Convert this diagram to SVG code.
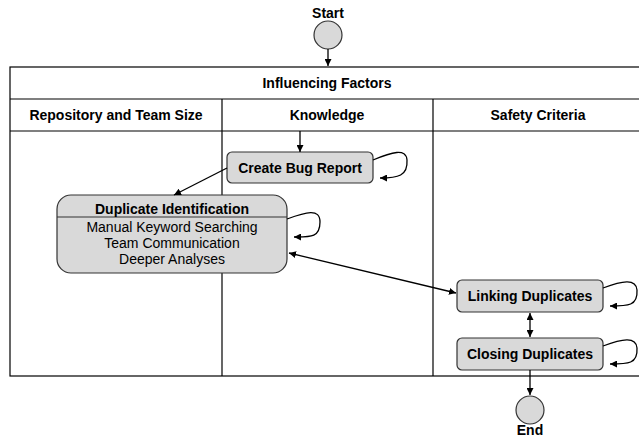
<svg xmlns="http://www.w3.org/2000/svg" width="639" height="440" viewBox="0 0 639 440">
<defs>
<marker id="ah" viewBox="0 0 10 10" refX="10" refY="5" markerWidth="7" markerHeight="7" orient="auto-start-reverse" markerUnits="userSpaceOnUse">
<path d="M0,0 L10,5 L0,10 z" fill="#000"/>
</marker>
<style>
text{font-family:"Liberation Sans",Arial,sans-serif;fill:#000}
.b{font-weight:bold;font-size:14px}
.r{font-size:14px}
.grid{fill:none;stroke:#000;stroke-width:1.2}
.box{fill:#d9d9d9;stroke:#333;stroke-width:1.2}
.circ{fill:#d9d9d9;stroke:#333;stroke-width:1.2}
.c{fill:none;stroke:#000;stroke-width:1.3}
</style>
</defs>
<g id="table">
<rect class="grid" x="10" y="67" width="634" height="309"/>
<line class="grid" x1="10" y1="99" x2="644" y2="99"/>
<line class="grid" x1="10" y1="131" x2="644" y2="131"/>
<line class="grid" x1="222" y1="99" x2="222" y2="376"/>
<line class="grid" x1="433" y1="99" x2="433" y2="376"/>
<text class="b" x="327" y="88" text-anchor="middle">Influencing Factors</text>
<text class="b" x="116" y="120" text-anchor="middle">Repository and Team Size</text>
<text class="b" x="327" y="120" text-anchor="middle">Knowledge</text>
<text class="b" x="538" y="120" text-anchor="middle">Safety Criteria</text>
</g>
<g id="start">
<circle class="circ" cx="328" cy="35" r="14"/>
<text class="b" x="328" y="18" text-anchor="middle">Start</text>
</g>
<g id="create-bug-report">
<rect class="box" x="227" y="152" width="146" height="31" rx="5"/>
<text class="b" x="300" y="173" text-anchor="middle">Create Bug Report</text>
</g>
<g id="duplicate-identification">
<rect class="box" x="57" y="195" width="230" height="78" rx="14"/>
<line x1="57" y1="217" x2="287" y2="217" stroke="#333" stroke-width="1.2"/>
<text class="b" x="172" y="214" text-anchor="middle">Duplicate Identification</text>
<text class="r" x="172" y="232" text-anchor="middle">Manual Keyword Searching</text>
<text class="r" x="172" y="248" text-anchor="middle">Team Communication</text>
<text class="r" x="172" y="264" text-anchor="middle">Deeper Analyses</text>
</g>
<g id="linking-duplicates">
<rect class="box" x="457" y="280" width="146" height="32" rx="5"/>
<text class="b" x="530" y="301" text-anchor="middle">Linking Duplicates</text>
</g>
<g id="closing-duplicates">
<rect class="box" x="457" y="338" width="146" height="32" rx="5"/>
<text class="b" x="530" y="359" text-anchor="middle">Closing Duplicates</text>
</g>
<g id="end">
<circle class="circ" cx="530" cy="410" r="14"/>
<text class="b" x="530" y="435" text-anchor="middle">End</text>
</g>
<g id="connectors">
<line class="c" x1="328" y1="49" x2="328" y2="66" marker-end="url(#ah)"/>
<line class="c" x1="300" y1="131" x2="300" y2="152" marker-end="url(#ah)"/>
<path class="c" d="M373,160 C392,152 406,148 407,160 C408,176 398,178 380,178" marker-end="url(#ah)"/>
<line class="c" x1="227" y1="168" x2="174" y2="195" marker-end="url(#ah)"/>
<path class="c" d="M287,219 C306,212 320,208 320,222 C320,238 310,237 294,237" marker-end="url(#ah)"/>
<line class="c" x1="289" y1="253" x2="456" y2="293" marker-start="url(#ah)" marker-end="url(#ah)"/>
<path class="c" d="M603,288 C622,281 636,278 637,290 C638,306 628,306 610,306" marker-end="url(#ah)"/>
<path class="c" d="M603,346 C622,339 636,336 637,348 C638,364 628,364 610,364" marker-end="url(#ah)"/>
<line class="c" x1="530" y1="313" x2="530" y2="337" marker-start="url(#ah)" marker-end="url(#ah)"/>
<line class="c" x1="530" y1="370" x2="530" y2="395" marker-end="url(#ah)"/>
</g>
</svg>
